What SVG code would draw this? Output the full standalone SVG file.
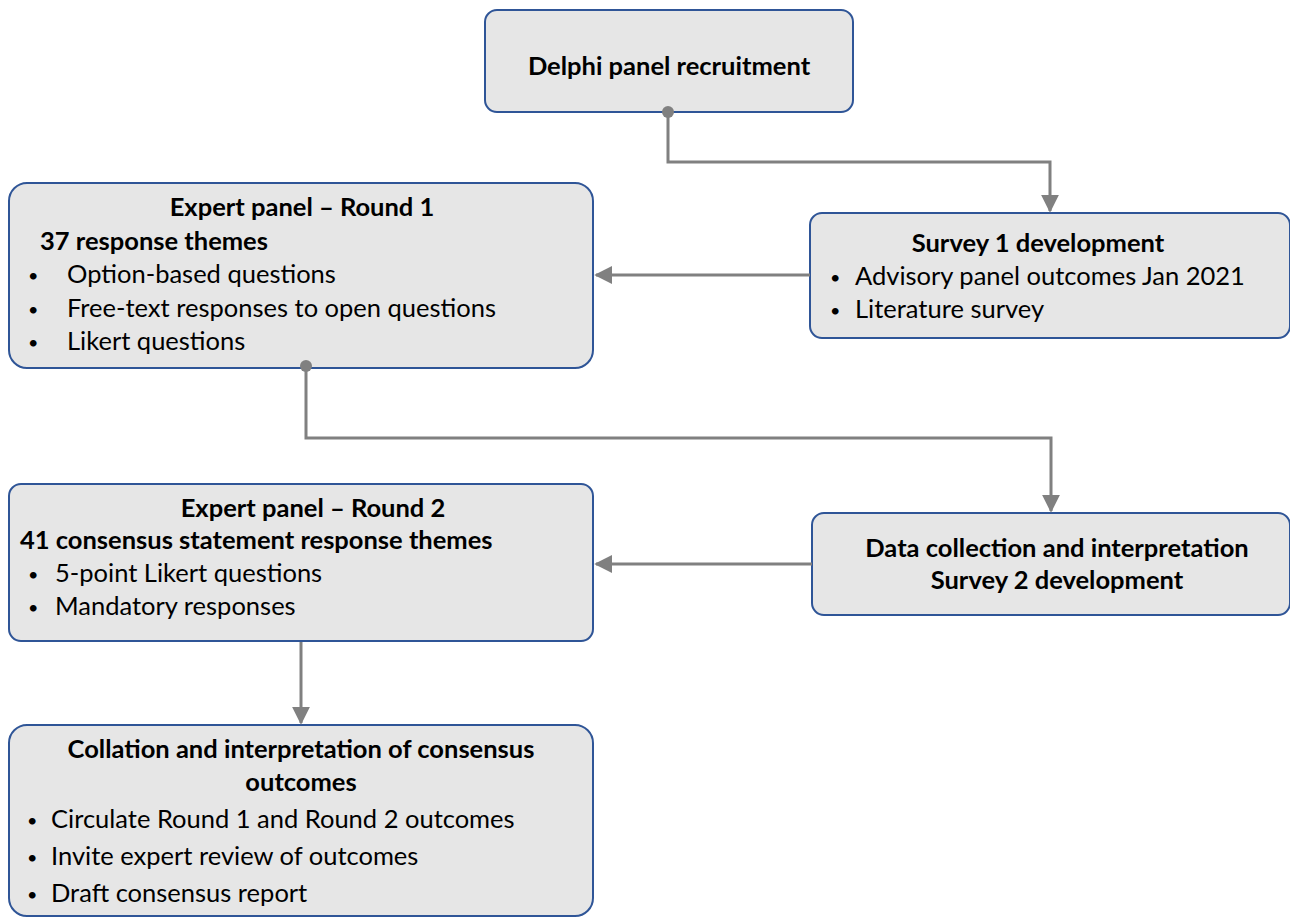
<svg xmlns="http://www.w3.org/2000/svg" width="1290" height="918" viewBox="0 0 1290 918">
<defs>
<style>
.box{fill:#e6e6e6;stroke:#2f5597;stroke-width:2}
text{font-family:Lato,"Open Sans",sans-serif;font-size:25.5px;fill:#000}
.b{font-weight:bold}
.c{text-anchor:middle}
.u{font-size:18px}
.ln{fill:none;stroke:#808080;stroke-width:3}
.dot{fill:#808080}
</style>
<marker id="ah" viewBox="0 0 10 10" refX="9" refY="5" markerWidth="6" markerHeight="6" markerUnits="strokeWidth" orient="auto">
<path d="M0,0 L10,5 L0,10 z" fill="#808080"/>
</marker>
</defs>
<rect width="1290" height="918" fill="#fff"/>
<g id="delphi">
<rect class="box" x="485" y="10" width="368" height="102" rx="12"/>
<text class="b c" x="669" y="75">Delphi panel recruitment</text>
</g>
<g id="round1">
<rect class="box" x="9" y="183" width="584" height="185" rx="18"/>
<text class="b c" x="302" y="216">Expert panel – Round 1</text>
<text class="b" x="40" y="250">37 response themes</text>
<text class="u" x="28" y="282">•</text><text x="67" y="283">Option-based questions</text>
<text class="u" x="28" y="316">•</text><text x="67" y="317">Free-text responses to open questions</text>
<text class="u" x="28" y="349">•</text><text x="67" y="350">Likert questions</text>
</g>
<g id="survey1">
<rect class="box" x="810" y="213" width="480" height="125" rx="12"/>
<text class="b c" x="1038" y="252">Survey 1 development</text>
<text class="u" x="830" y="284">•</text><text x="855" y="285">Advisory panel outcomes Jan 2021</text>
<text class="u" x="830" y="317">•</text><text x="855" y="318">Literature survey</text>
</g>
<g id="round2">
<rect class="box" x="9" y="484" width="584" height="157" rx="12"/>
<text class="b c" x="313" y="517">Expert panel – Round 2</text>
<text class="b" x="20" y="549">41 consensus statement response themes</text>
<text class="u" x="28" y="581">•</text><text x="55" y="582">5-point Likert questions</text>
<text class="u" x="28" y="614">•</text><text x="55" y="615">Mandatory responses</text>
</g>
<g id="datacollection">
<rect class="box" x="812" y="513" width="478" height="102" rx="12"/>
<text class="b c" x="1057" y="557">Data collection and interpretation</text>
<text class="b c" x="1057" y="589">Survey 2 development</text>
</g>
<g id="collation">
<rect class="box" x="9" y="725" width="584" height="191" rx="18"/>
<text class="b c" x="301" y="758">Collation and interpretation of consensus</text>
<text class="b c" x="301" y="791">outcomes</text>
<text class="u" x="27" y="827">•</text><text x="51" y="828">Circulate Round 1 and Round 2 outcomes</text>
<text class="u" x="27" y="864">•</text><text x="51" y="865">Invite expert review of outcomes</text>
<text class="u" x="27" y="901">•</text><text x="51" y="902">Draft consensus report</text>
</g>
<g id="connectors">
<path class="ln" d="M668,112 V162 H1050 V211" marker-end="url(#ah)"/>
<circle class="dot" cx="668" cy="112" r="6"/>
<path class="ln" d="M810,275 H596" marker-end="url(#ah)"/>
<path class="ln" d="M306,366 V438 H1051 V511" marker-end="url(#ah)"/>
<circle class="dot" cx="306" cy="366" r="6"/>
<path class="ln" d="M812,564 H596" marker-end="url(#ah)"/>
<path class="ln" d="M301,642 V723" marker-end="url(#ah)"/>
</g>
</svg>
